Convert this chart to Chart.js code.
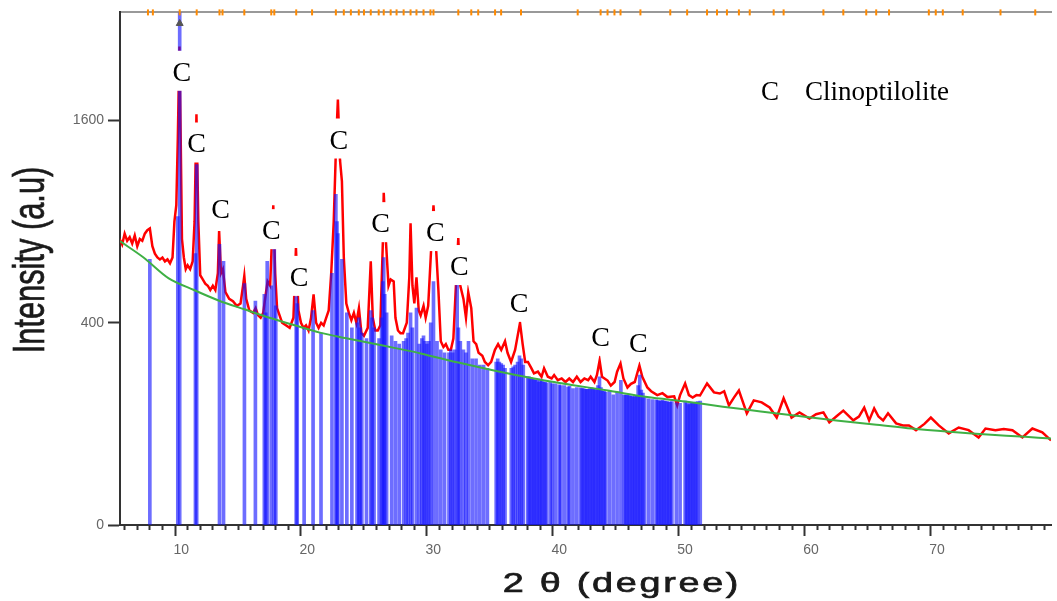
<!DOCTYPE html>
<html>
<head>
<meta charset="utf-8">
<script src="https://cdn.jsdelivr.net/npm/chart.js@4.4.1/dist/chart.umd.min.js"></script>
<style>
  html, body { margin: 0; padding: 0; background: #fff; }
  #wrap { width: 1057px; height: 601px; }
</style>
</head>
<body>
<div id="wrap"><canvas id="xrd" width="1057" height="601"></canvas></div>
<script>
// axis ranges (2theta in degrees, intensity in counts, square-root scale)
const xMin = 5.13, xMax = 79.05;
const yMin = 0, yMax = 2570;
const yTickValues = [0, 400, 1600];
const xMajorTicks = [10, 20, 30, 40, 50, 60, 70];

// measured pattern (red)
const patternX = [
  5.1, 5.3, 5.5, 5.7, 5.9, 6.1, 6.3, 6.5, 6.7, 6.9,
  7.1, 7.3, 7.5, 7.7, 7.9, 8.1, 8.3, 8.5, 8.7, 8.9,
  9.1, 9.3, 9.45, 9.6, 9.72, 9.85, 9.95, 10.05, 10.2, 10.35,
  10.5, 10.7, 10.9, 11.05, 11.2, 11.35, 11.5, 11.7, 11.9, 12.1,
  12.3, 12.5, 12.7, 12.9, 13.0, 13.15, 13.3, 13.5, 13.8, 14.1,
  14.4, 14.7, 14.9, 15.0, 15.15, 15.4, 15.7, 15.9, 16.1, 16.3,
  16.5, 16.7, 16.85, 17.05, 17.3, 17.45, 17.6, 17.8, 18.0, 18.3,
  18.6, 18.9, 19.1, 19.3, 19.5, 19.7, 19.9, 20.1, 20.3, 20.5,
  20.7, 20.9, 21.1, 21.3, 21.5, 21.7, 21.9, 22.1, 22.3, 22.43,
  22.6, 22.75, 22.9, 23.1, 23.3, 23.5, 23.7, 23.9, 24.1, 24.3,
  24.5, 24.8, 25.04, 25.2, 25.4, 25.6, 25.8, 26.0, 26.07, 26.25,
  26.45, 26.62, 26.86, 27.0, 27.2, 27.4, 27.6, 27.9, 28.1, 28.2,
  28.35, 28.5, 28.67, 28.85, 29.0, 29.23, 29.4, 29.6, 29.8, 30.02,
  30.2, 30.41, 30.6, 30.81, 31.0, 31.2, 31.4, 31.6, 31.8, 31.99,
  32.15, 32.4, 32.6, 32.78, 33.02, 33.2, 33.41, 33.6, 33.9, 34.1,
  34.36, 34.6, 34.9, 35.15, 35.4, 35.7, 35.9, 36.18, 36.5, 36.89,
  37.1, 37.3, 37.52, 37.8, 38.0, 38.31, 38.6, 38.8, 39.1, 39.4,
  39.6, 39.89, 40.2, 40.5, 40.8, 41.1, 41.4, 41.7, 42.0, 42.3,
  42.5, 42.8, 43.0, 43.21, 43.4, 43.84, 44.1, 44.4, 44.6, 44.87,
  45.1, 45.42, 45.7, 46.0, 46.37, 46.6, 47.0, 47.3, 47.79, 48.2,
  48.6, 49.13, 49.37, 49.6, 50.0, 50.3, 50.6, 50.9, 51.18, 51.74,
  52.29, 52.76, 53.1, 53.48, 53.9, 54.27, 54.9, 55.45, 56.08, 56.71,
  57.27, 57.82, 58.45, 59.08, 59.87, 60.4, 60.98, 61.45, 62.0, 62.56,
  63.35, 63.8, 64.22, 64.61, 65.01, 65.35, 65.72, 66.11, 66.75, 67.3,
  67.77, 68.33, 69.0, 69.51, 70.14, 70.93, 71.72, 72.51, 73.3, 73.85,
  74.64, 75.3, 75.99, 76.78, 77.57, 78.36, 79.05
];
const patternY = [
  800, 770, 830, 790, 810, 775, 820, 760, 800, 790,
  830, 850, 860, 760, 720, 700, 690, 700, 680, 690,
  670, 700, 900, 1000, 1460, 2240, 1460, 800, 700, 640,
  660, 640, 680, 900, 1650, 900, 610, 590, 570, 560,
  540, 560, 540, 620, 845, 620, 640, 530, 500, 490,
  470, 480, 560, 607, 500, 450, 440, 460, 430, 420,
  440, 520, 580, 560, 1000, 620, 460, 430, 400, 390,
  380, 420, 750, 450, 400, 380, 390, 370, 420, 520,
  400, 380, 400, 390, 420, 450, 620, 900, 1460, 1770,
  1300, 1155, 700, 480, 440, 410, 440, 400, 460, 360,
  350, 380, 680, 420, 370, 370, 390, 780, 1080, 780,
  560, 590, 580, 420, 370, 360, 360, 400, 600, 890,
  560, 480, 600, 450, 430, 470, 420, 470, 700, 1000,
  780, 540, 330, 310, 320, 300, 300, 340, 560, 805,
  560, 500, 420, 530, 460, 330, 320, 290, 280, 260,
  250, 260, 300, 320, 300, 330, 290, 260, 300, 400,
  320, 260, 260, 240, 225, 230, 215, 240, 215, 210,
  220, 205, 210, 200, 210, 200, 215, 200, 210, 205,
  215, 200, 220, 264, 215, 204, 190, 200, 230, 255,
  210, 185, 195, 200, 249, 215, 185, 175, 165, 170,
  160, 162, 140, 165, 196, 165, 159, 165, 164, 196,
  172, 169, 175, 140, 160, 177, 122, 152, 147, 135,
  113, 157, 113, 124, 111, 120, 124, 103, 115, 128,
  107, 115, 135, 107, 133, 115, 107, 122, 101, 97,
  97, 88, 100, 113, 97, 82, 93, 88, 75, 91,
  88, 90, 88, 75, 91, 84, 70
];

// fitted background (green)
const backgroundX = [5.13, 7, 9, 11, 13, 15, 17, 19, 21, 23, 25, 27, 29, 32, 35,
  38, 41, 44, 47, 50, 53, 56, 59, 62, 65, 68, 71, 74, 77, 79.05];
const backgroundY = [788, 700, 595, 540, 492, 455, 420, 390, 362, 342, 324, 306, 288, 258, 232,
  210, 192, 176, 160, 149, 137, 126, 116, 107, 99, 91, 85, 80, 76, 73];

// reference pattern sticks (blue)
const stickX = [
  7.50, 9.72, 9.87, 11.12, 11.22, 13.03, 13.35, 15.01, 15.88, 16.59,
  16.70, 16.82, 17.14, 17.38, 17.50, 19.12, 19.20, 19.75, 20.46, 21.09,
  21.96, 22.27, 22.36, 22.43, 22.75, 23.14, 23.54, 23.95, 24.09, 24.20,
  24.33, 24.70, 25.04, 25.15, 25.30, 25.70, 25.90, 26.00, 26.07, 26.15,
  26.30, 26.70, 27.00, 27.30, 27.65, 27.85, 28.00, 28.20, 28.35, 28.67,
  28.90, 29.10, 29.23, 29.35, 29.50, 29.65, 29.80, 30.02, 30.30, 30.60,
  30.90, 31.25, 31.40, 31.55, 31.70, 31.90, 32.00, 32.15, 32.40, 32.60,
  32.80, 33.10, 33.40, 33.70, 34.00, 34.30, 35.00, 35.12, 35.25, 35.40,
  35.55, 35.70, 36.20, 36.35, 36.50, 36.70, 36.85, 37.00, 37.15, 37.50,
  37.62, 37.75, 37.88, 38.00, 38.12, 38.25, 38.38, 38.50, 38.62, 38.75,
  38.88, 39.00, 39.30, 39.45, 39.70, 40.00, 40.12, 40.40, 40.70, 40.82,
  41.10, 41.40, 41.70, 41.82, 41.95, 42.08, 42.20, 42.32, 42.45, 42.58,
  42.70, 42.82, 42.95, 43.08, 43.20, 43.32, 43.45, 43.58, 43.70, 44.00,
  44.30, 44.60, 44.90, 45.15, 45.27, 45.40, 45.52, 45.65, 45.78, 45.90,
  46.02, 46.15, 46.27, 46.40, 46.52, 46.65, 46.78, 47.10, 47.40, 47.70,
  47.82, 47.95, 48.07, 48.20, 48.32, 48.45, 48.57, 48.70, 48.82, 48.95,
  49.30, 49.60, 50.00, 50.12, 50.25, 50.37, 50.50, 50.62, 50.75, 50.87,
  51.00, 51.20
];
const stickY = [
  690, 930, 3000, 720, 1270, 770, 680, 570, 490, 520,
  440, 680, 560, 750, 470, 510, 480, 380, 450, 360,
  620, 1070, 900, 830, 690, 440, 380, 400, 420, 380,
  360, 340, 450, 420, 380, 340, 420, 580, 700, 520,
  440, 350, 330, 320, 330, 340, 360, 440, 380, 460,
  320, 340, 350, 330, 320, 330, 400, 580, 330, 300,
  290, 290, 300, 290, 300, 570, 380, 330, 300, 290,
  330, 270, 270, 250, 250, 240, 260, 270, 260, 255,
  250, 240, 240, 245, 250, 260, 280, 270, 250, 215,
  215, 212, 210, 210, 205, 205, 200, 208, 205, 200,
  200, 198, 200, 195, 195, 192, 190, 190, 186, 188,
  182, 185, 184, 182, 182, 180, 180, 180, 182, 184,
  182, 180, 178, 190, 215, 185, 176, 175, 172, 175,
  166, 172, 205, 165, 165, 165, 164, 163, 162, 160,
  162, 164, 190, 220, 178, 170, 162, 156, 154, 153,
  152, 150, 151, 152, 150, 150, 149, 148, 148, 149,
  146, 145, 150, 146, 142, 144, 145, 146, 147, 148,
  149, 150
];

// phase markers along the top border (orange)
const markerX = [7.35, 7.74, 9.87, 11.22, 13.03, 13.27, 15.0, 17.14, 17.38, 19.12,
  20.38, 22.27, 22.9, 23.46, 24.09, 24.5, 25.04, 25.67, 26.07, 26.62,
  27.09, 27.65, 28.2, 28.67, 29.23, 29.78, 30.02, 31.99, 33.02, 33.57,
  34.91, 35.39, 36.97, 41.47, 43.29, 43.84, 44.39, 44.87, 46.45, 48.82,
  50.16, 51.74, 52.53, 53.32, 54.27, 55.13, 57.03, 57.82, 60.98, 62.56,
  64.38, 65.17, 66.19, 69.35, 69.9, 70.46, 72.04, 75.04, 77.8];

// "C" (clinoptilolite) peak labels
const peakLabelX = [10.03, 11.22, 13.11, 17.14, 19.35, 22.51, 25.83, 30.17, 32.07, 36.81, 43.29, 46.29];
const peakLabelY = [2018, 1431, 981, 856, 607, 1461, 897, 845, 661, 487, 350, 329];

// cut-off main peak arrow
const arrowX = [9.87];
const arrowY = [2460];

class SqrtScale extends Chart.LinearScale {
  static id = 'sqrt';
  static defaults = Chart.LinearScale.defaults;
  getPixelForValue(value) {
    const lo = Math.sqrt(this.min), hi = Math.sqrt(this.max);
    return this.getPixelForDecimal((Math.sqrt(Math.max(value, 0)) - lo) / (hi - lo));
  }
  getValueForPixel(pixel) {
    const lo = Math.sqrt(this.min), hi = Math.sqrt(this.max);
    const s = lo + this.getDecimalForPixel(pixel) * (hi - lo);
    return s * s;
  }
}
Chart.register(SqrtScale);

const pts = (xs, ys) => xs.map((v, i) => ({ x: v, y: ys[i] }));

const tickFont = { family: '"Liberation Sans Narrow", "Liberation Sans", Arial, sans-serif', size: 14 };

const textPlugin = {
  id: 'xrdText',
  afterDatasetsDraw(chart) {
    const { ctx, scales: { x, y } } = chart;
    ctx.save();
    ctx.font = '28px "Liberation Serif", "Times New Roman", serif';
    ctx.textAlign = 'center';
    ctx.textBaseline = 'alphabetic';
    peakLabelX.forEach((v, i) => {
      const px = x.getPixelForValue(v);
      const py = y.getPixelForValue(peakLabelY[i]);
      ctx.fillStyle = '#fff';
      ctx.fillRect(px - 12, py - 20, 24, 40);
      ctx.fillStyle = '#000';
      ctx.fillText('C', px, py + 10);
    });

    // legend
    ctx.font = '27px "Liberation Serif", "Times New Roman", serif';
    ctx.textAlign = 'center';
    ctx.fillText('C', 770, 100);
    ctx.textAlign = 'left';
    ctx.fillText('Clinoptilolite', 805, 100);

    // axis titles
    ctx.fillStyle = '#1a1a1a';
    ctx.strokeStyle = '#1a1a1a';
    ctx.lineWidth = 0.7;
    ctx.save();
    ctx.translate(44, 260);
    ctx.rotate(-Math.PI / 2);
    ctx.scale(0.7, 1);
    ctx.font = '44px "Liberation Sans", Arial, sans-serif';
    ctx.textAlign = 'center';
    ctx.fillText('Intensity (a.u)', 0, 0);
    ctx.strokeText('Intensity (a.u)', 0, 0);
    ctx.restore();

    ctx.save();
    ctx.translate(622, 592);
    ctx.scale(1.35, 1);
    ctx.font = '28px "Liberation Sans", Arial, sans-serif';
    ctx.letterSpacing = '2px';
    ctx.textAlign = 'center';
    ctx.fillText('2 \u03b8 (degree)', 0, 0);
    ctx.strokeText('2 \u03b8 (degree)', 0, 0);
    ctx.restore();
    ctx.restore();
  }
};

new Chart(document.getElementById('xrd'), {
  type: 'line',
  data: {
    datasets: [
      {
        label: 'Background',
        data: pts(backgroundX, backgroundY),
        borderColor: '#3fb045',
        borderWidth: 2,
        pointRadius: 0,
        tension: 0.3,
        order: 0
      },
      {
        type: 'bar',
        label: 'Clinoptilolite reference',
        data: pts(stickX, stickY),
        backgroundColor: 'rgba(20, 20, 255, 0.62)',
        borderWidth: 0,
        barThickness: 3,
        order: 1
      },
      {
        label: 'Measured',
        data: pts(patternX, patternY),
        borderColor: '#ff0000',
        borderWidth: 2.5,
        pointRadius: 0,
        tension: 0,
        order: 2
      },
      {
        label: 'Markers',
        data: markerX.map(v => ({ x: v, y: yMax })),
        showLine: false,
        pointStyle: 'line',
        rotation: 90,
        pointRadius: 3,
        borderColor: '#ff8a00',
        borderWidth: 2,
        clip: false,
        order: -1
      },
      {
        label: 'Arrow',
        data: pts(arrowX, arrowY),
        showLine: false,
        pointStyle: 'triangle',
        pointRadius: 4,
        backgroundColor: '#555',
        borderColor: '#555',
        order: -1
      }
    ]
  },
  options: {
    responsive: false,
    animation: false,
    devicePixelRatio: 1,
    events: [],
    layout: { padding: 0 },
    plugins: { legend: { display: false }, tooltip: { enabled: false } },
    scales: {
      x: {
        type: 'linear',
        position: 'bottom',
        min: xMin,
        max: xMax,
        offset: false,
        afterBuildTicks: (s) => {
          const t = [];
          for (let v = Math.ceil(xMin); v <= xMax; v++) t.push({ value: v });
          s.ticks = t;
        },
        afterFit: (s) => { s.height = 76; },
        ticks: {
          autoSkip: false,
          maxRotation: 0,
          padding: 6,
          color: '#666',
          font: tickFont,
          callback: (v) => xMajorTicks.includes(v) ? String(v) : ''
        },
        grid: {
          drawOnChartArea: false,
          tickLength: 11,
          tickColor: '#333',
          tickWidth: 2,
          tickBorderDash: (c) => (c.tick && xMajorTicks.includes(c.tick.value)) ? [] : [4, 30]
        },
        border: { color: '#333', width: 2 }
      },
      xTop: {
        type: 'linear',
        position: 'top',
        min: xMin,
        max: xMax,
        afterFit: (s) => { s.height = 10; },
        ticks: { display: false },
        grid: { drawOnChartArea: false, drawTicks: false },
        border: { color: '#999', width: 2 }
      },
      y: {
        type: 'sqrt',
        position: 'left',
        min: yMin,
        max: yMax,
        bounds: 'data',
        afterBuildTicks: (s) => { s.ticks = yTickValues.map(v => ({ value: v })); },
        afterFit: (s) => { s.width = 120; },
        ticks: {
          padding: 4,
          color: '#666',
          font: tickFont,
          callback: (v) => String(v)
        },
        grid: { drawOnChartArea: false, tickLength: 12, tickColor: '#333', tickWidth: 2 },
        border: { color: '#333', width: 2 }
      }
    }
  },
  plugins: [textPlugin]
});
</script>
</body>
</html>
